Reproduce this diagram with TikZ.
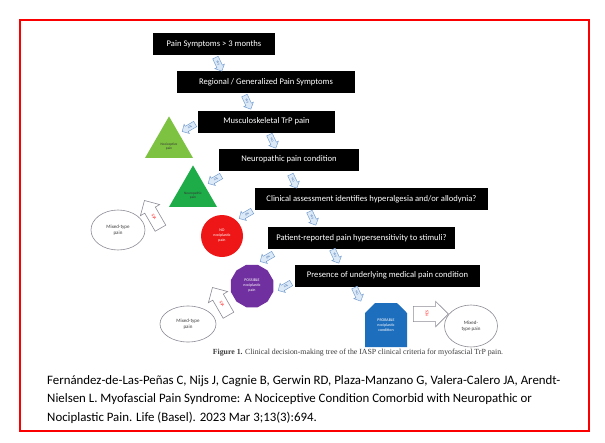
\documentclass[tikz,border=0pt]{standalone}
\usepackage{fontspec}
\setmainfont{Carlito}
\newfontfamily\capfont{Liberation Serif}
\usetikzlibrary{shapes.geometric,shapes.arrows,shapes.misc}

\definecolor{framered}{RGB}{250,0,0}
\definecolor{arrowfill}{RGB}{220,233,247}
\definecolor{arrowedge}{RGB}{120,160,210}
\definecolor{arrowtext}{RGB}{40,90,160}
\definecolor{nocigreen}{RGB}{125,195,65}
\definecolor{neurogreen}{RGB}{30,172,72}
\definecolor{nored}{RGB}{238,22,22}
\definecolor{possible}{RGB}{112,48,160}
\definecolor{probable}{RGB}{30,110,190}
\definecolor{mixedge}{RGB}{140,140,150}
\definecolor{captext}{RGB}{60,60,60}

\tikzset{
  qbox/.style={fill=black, text=white, minimum height=22pt, inner sep=2pt,
    font=\fontsize{8.6}{9}\selectfont},
  flowarrow/.style={single arrow, draw=arrowedge, fill=arrowfill, line width=0.5pt,
    inner xsep=1pt, inner ysep=1.8pt, minimum height=15pt, single arrow head extend=2.2pt,
    font=\fontsize{3}{3}\selectfont, text=arrowtext},
  bigarrow/.style={single arrow, draw=mixedge, fill=white, line width=0.6pt,
    inner xsep=3pt, inner ysep=4.5pt, minimum height=32pt, single arrow head extend=5pt,
    font=\fontsize{4}{4}\selectfont, text=red},
  mixed/.style={ellipse, draw=mixedge, fill=white, line width=0.6pt, inner sep=0pt,
    align=center, text=captext, font=\fontsize{5}{6}\selectfont},
  tri/.style={regular polygon, regular polygon sides=3, minimum size=55.4pt, inner sep=0pt,
    align=center, text=black!80, font=\fontsize{3.5}{4}\selectfont},
  outcome/.style={text=white, align=center, inner sep=0pt, font=\fontsize{4}{5}\selectfont}
}

\begin{document}
\begin{tikzpicture}[x=1pt,y=-1pt]
\useasboundingbox (0,0) rectangle (605,442);
\fill[white] (0,0) rectangle (605,442);
\draw[framered, line width=2pt] (20,20) rectangle (589,431);

% question boxes of the decision tree
\node[qbox, minimum width=122pt] (b1) at (214,44)    {Pain Symptoms > 3 months};
\node[qbox, minimum width=178pt] (b2) at (266,82)    {Regional / Generalized Pain Symptoms};
\node[qbox, minimum width=137pt] (b3) at (266.5,121.5) {Musculoskeletal TrP pain};
\node[qbox, minimum width=140pt] (b4) at (289,159.5) {Neuropathic pain condition};
\node[qbox, minimum width=233pt] (b5) at (371.5,199) {Clinical assessment identifies hyperalgesia and/or allodynia?};
\node[qbox, minimum width=187pt] (b6) at (361.5,238) {Patient-reported pain hypersensitivity to stimuli?};
\node[qbox, minimum width=185pt] (b7) at (387.5,275.5) {Presence of underlying medical pain condition};

% outcomes
\node[tri, fill=nocigreen] (t1) at (169,144.1) {\\[3pt]Nociceptive\\pain};
\node[tri, fill=neurogreen] (t2) at (193,193.1) {\\[3pt]Neuropathic\\pain};
\node[circle, fill=nored, minimum size=42pt, outcome] (c1) at (222,236) {NO\\nociplastic\\pain};
\node[regular polygon, regular polygon sides=12, fill=possible, minimum size=44pt, outcome] (c2) at (252,286) {POSSIBLE\\nociplastic\\pain};
\node[chamfered rectangle, chamfered rectangle corners={north east,north west},
  chamfered rectangle xsep=5pt, chamfered rectangle ysep=5pt,
  fill=probable, minimum width=42pt, minimum height=44pt, outcome] (p1) at (386,325) {PROBABLE\\nociplastic\\condition};

\node[mixed, minimum width=54pt, minimum height=40pt] (m1) at (118,230) {Mixed-type\\pain};
\node[mixed, minimum width=56pt, minimum height=36pt] (m2) at (188,324) {Mixed-type\\pain};
\node[mixed, minimum width=53pt, minimum height=42pt] (m3) at (471,326) {Mixed-\\type pain};

% block arrows along the tree
\node[flowarrow, rotate=-65] (a12) at (218,63)  {YES};
\node[flowarrow, rotate=-65] (a23) at (247,101) {YES};
\node[flowarrow, rotate=-65] (a34) at (272,140) {NO};
\node[flowarrow, rotate=-65] (a45) at (293,180) {NO};
\node[flowarrow, rotate=-65] (a56) at (312,217) {YES};
\node[flowarrow, rotate=-65] (a67) at (335,255) {YES};
\node[flowarrow, rotate=-65] (a7p) at (357,293) {NO};

\node[flowarrow, rotate=-150] (a3t) at (190,127) {YES};
\node[flowarrow, rotate=-150] (a4t) at (216,179) {YES};
\node[flowarrow, rotate=-150] (a5c) at (247,214) {NO};
\node[flowarrow, rotate=-150] (a6c) at (268,257) {NO};
\node[flowarrow, rotate=-150] (a7c) at (286,286) {YES};

\node[bigarrow, rotate=120] (x1) at (154,217) {YES};
\node[bigarrow, rotate=120] (x2) at (222,304) {YES};
\node[bigarrow, rotate=0, minimum height=35pt] (x3) at (427,314) {\rotatebox{90}{YES}};

% caption and reference
\node[text=captext, font=\capfont\fontsize{7.8}{8}\selectfont] (cap) at (358,353)
  {\textbf{Figure 1.} Clinical decision-making tree of the IASP clinical criteria for myofascial TrP pain.};
\node[anchor=north west, align=left, inner sep=0pt, font=\fontsize{12.85}{18.5}\selectfont] (ref) at (47,375)
  {Fernández-de-Las-Peñas C, Nijs J, Cagnie B, Gerwin RD, Plaza-Manzano G, Valera-Calero JA, Arendt-\\
   Nielsen L. Myofascial Pain Syndrome: A Nociceptive Condition Comorbid with Neuropathic or\\
   Nociplastic Pain. Life (Basel). 2023 Mar 3;13(3):694.};
\end{tikzpicture}
\end{document}
